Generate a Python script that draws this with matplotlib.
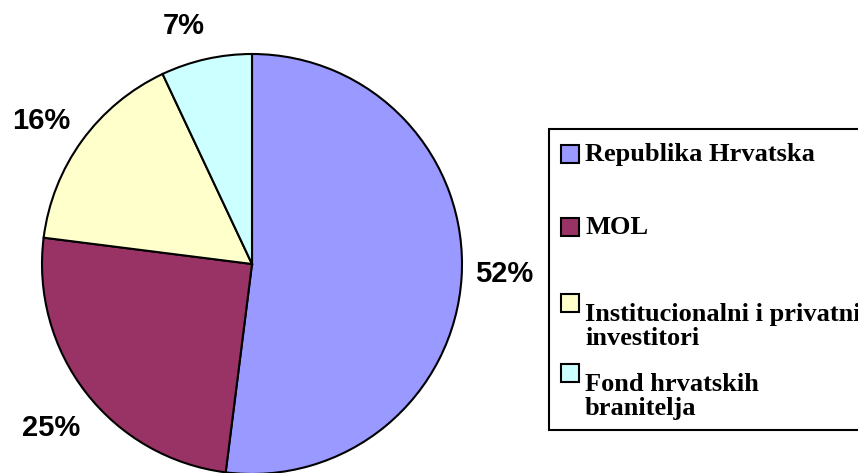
import matplotlib.pyplot as plt
from matplotlib.patches import Rectangle

labels = ['Republika Hrvatska', 'MOL', 'Institucionalni i privatni\ninvestitori',
          'Fond hrvatskih\nbranitelja']
shares = [52, 25, 16, 7]
colors = ['#9999FF', '#993366', '#FFFFCC', '#CCFFFF']

W, H = 858, 473
fig = plt.figure(figsize=(W / 100, H / 100), dpi=100)
ax = fig.add_axes([0, 0, 1, 1])

# pixel-like data coordinates, y measured from the bottom
wedges, texts, autotexts = ax.pie(
    shares, colors=colors, startangle=90, counterclock=False,
    center=(252, H - 264), radius=210,
    wedgeprops=dict(edgecolor='black', linewidth=1.5),
    autopct='%1.0f%%', pctdistance=1.2,
    textprops=dict(fontsize=21, fontweight='bold', family='Liberation Sans'))

# Excel-style label placement (pixels from top-left)
label_pos = [(504, 274), (51, 428), (41, 121), (184, 26)]
for t, (x, y) in zip(autotexts, label_pos):
    t.set_position((x, H - y))

ax.set_xlim(0, W)
ax.set_ylim(0, H)
ax.set_aspect('auto')
ax.axis('off')

# legend box drawn by hand to keep the uneven spacing
ax.add_patch(Rectangle((549, H - 430), 340, 301, facecolor='white',
                       edgecolor='black', linewidth=1.5))
rows = [154, 227, 303, 373]
for lab, col, y in zip(labels, colors, rows):
    ax.add_patch(Rectangle((561, H - y - 9), 18, 18, facecolor=col,
                           edgecolor='black', linewidth=1.5))
    ax.text(585, H - y, lab, ha='left',
            va='center' if '\n' not in lab else 'top',
            fontsize=19, fontweight='bold', family='Liberation Serif',
            linespacing=1.05)

fig.savefig('out.png', dpi=100)
